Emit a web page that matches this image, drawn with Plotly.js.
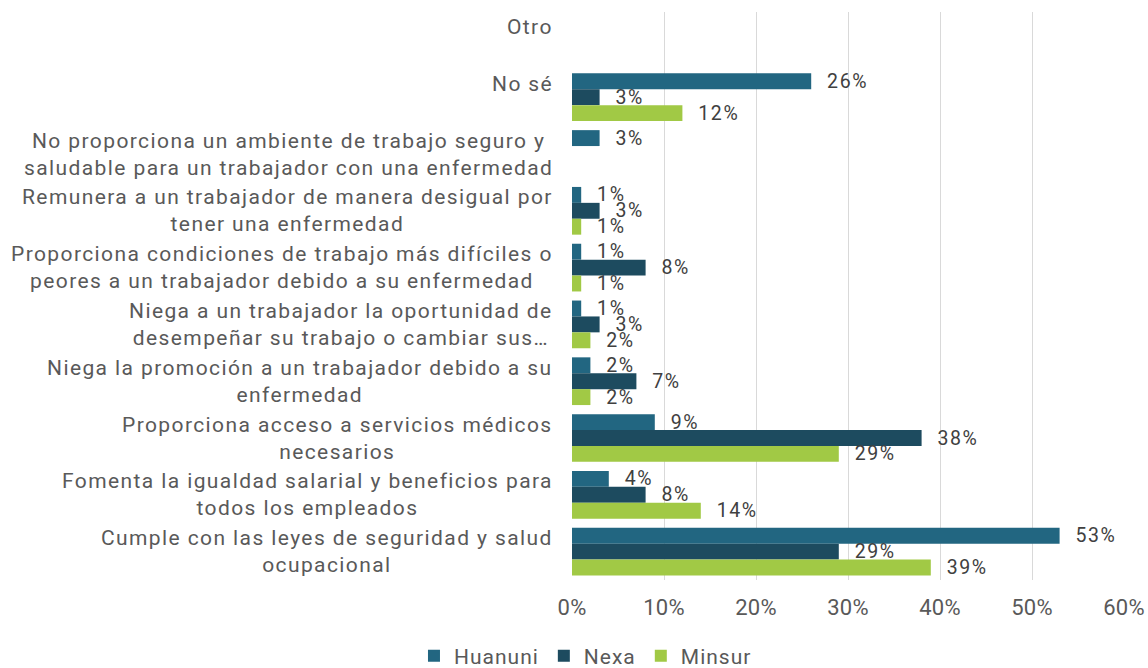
<!DOCTYPE html>
<html>
<head>
<meta charset="utf-8">
<script src="https://cdn.plot.ly/plotly-3.0.1.min.js"></script>
<style>
html,body{margin:0;padding:0;background:#fff;}
#chart{width:1148px;height:668px;}
.annotation-text{letter-spacing:1.4px;}
.bartext{letter-spacing:1.6px;}
.legendtext{letter-spacing:1px;}
.xtick text{letter-spacing:0.3px;}
</style>
</head>
<body>
<div id="chart"></div>
<script>
// Categories, top to bottom
var categories = [
  "Otro",
  "No sé",
  "No proporciona un ambiente de trabajo seguro y<br>saludable para un trabajador con una enfermedad",
  "Remunera a un trabajador de manera desigual por<br>tener una enfermedad",
  "Proporciona condiciones de trabajo más difíciles o<br>peores a un trabajador debido a su enfermedad",
  "Niega a un trabajador la oportunidad de<br>desempeñar su trabajo o cambiar sus…",
  "Niega la promoción a un trabajador debido a su<br>enfermedad",
  "Proporciona acceso a servicios médicos<br>necesarios",
  "Fomenta la igualdad salarial y beneficios para<br>todos los empleados",
  "Cumple con las leyes de seguridad y salud<br>ocupacional"
];
var seriesNames = ["Huanuni", "Nexa", "Minsur"];
var huanuni = [null, 26, 3, 1, 1, 1, 2, 9, 4, 53];
var nexa    = [null, 3, null, 3, 8, 3, 7, 38, 8, 29];
var minsur  = [null, 12, null, 1, 1, 2, 2, 29, 14, 39];
var xTicks = [0, 10, 20, 30, 40, 50, 60];
var colors = ["#226681", "#1D4B5F", "#A1C945"];

var values = [huanuni, nexa, minsur];
var keys = categories.map(function(c, i){ return "c" + i; });
var traces = values.map(function(v, i){
  return {
    type: "bar", orientation: "h",
    name: seriesNames[i],
    x: v, y: keys,
    marker: {color: colors[i], line: {width: 0}},
    text: v.map(function(d){ return d === null ? "" : "\u00a0\u00a0" + d + "%"; }),
    textposition: "outside",
    constraintext: "none",
    cliponaxis: false,
    textfont: {family: "Roboto, sans-serif", size: 19.5, color: "#404040"},
    hoverinfo: "x+name"
  };
});

var annotations = categories.map(function(c, i){
  var twoLine = c.indexOf("<br>") >= 0;
  return {
    xref: "paper", yref: "y", x: 0, y: keys[i],
    xanchor: "right", yanchor: "middle", align: "center",
    xshift: -17, yshift: twoLine ? 0 : 13,
    text: c, showarrow: false,
    font: {family: "Roboto, sans-serif", size: 21, color: "#595959"}
  };
});

var layout = {
  width: 1148, height: 668,
  margin: {l: 572, r: 24, t: 12, b: 88},
  paper_bgcolor: "#fff", plot_bgcolor: "#fff",
  barmode: "group", bargap: 0.16, bargroupgap: 0,
  showlegend: true,
  legend: {
    orientation: "h", xref: "container", yref: "container",
    x: 0.51, xanchor: "center", y: 0.018, yanchor: "middle",
    font: {family: "Roboto, sans-serif", size: 21, color: "#595959"},
    itemwidth: 30, traceorder: "normal"
  },
  xaxis: {
    range: [0, 60], tickvals: xTicks, ticktext: xTicks.map(function(t){ return t + "%"; }),
    showgrid: true, gridcolor: "#D9D9D9", gridwidth: 1,
    zeroline: false, showline: false, ticks: "",
    ticklabelstandoff: 12,
    tickfont: {family: "Roboto, sans-serif", size: 22, color: "#595959"},
    automargin: false
  },
  yaxis: {
    type: "category", categoryorder: "array", categoryarray: keys,
    autorange: "reversed", showticklabels: false, showgrid: false,
    zeroline: false, showline: false, ticks: "", automargin: false
  },
  annotations: annotations
};

Plotly.newPlot("chart", traces, layout, {displayModeBar: false, staticPlot: true});
</script>
</body>
</html>
